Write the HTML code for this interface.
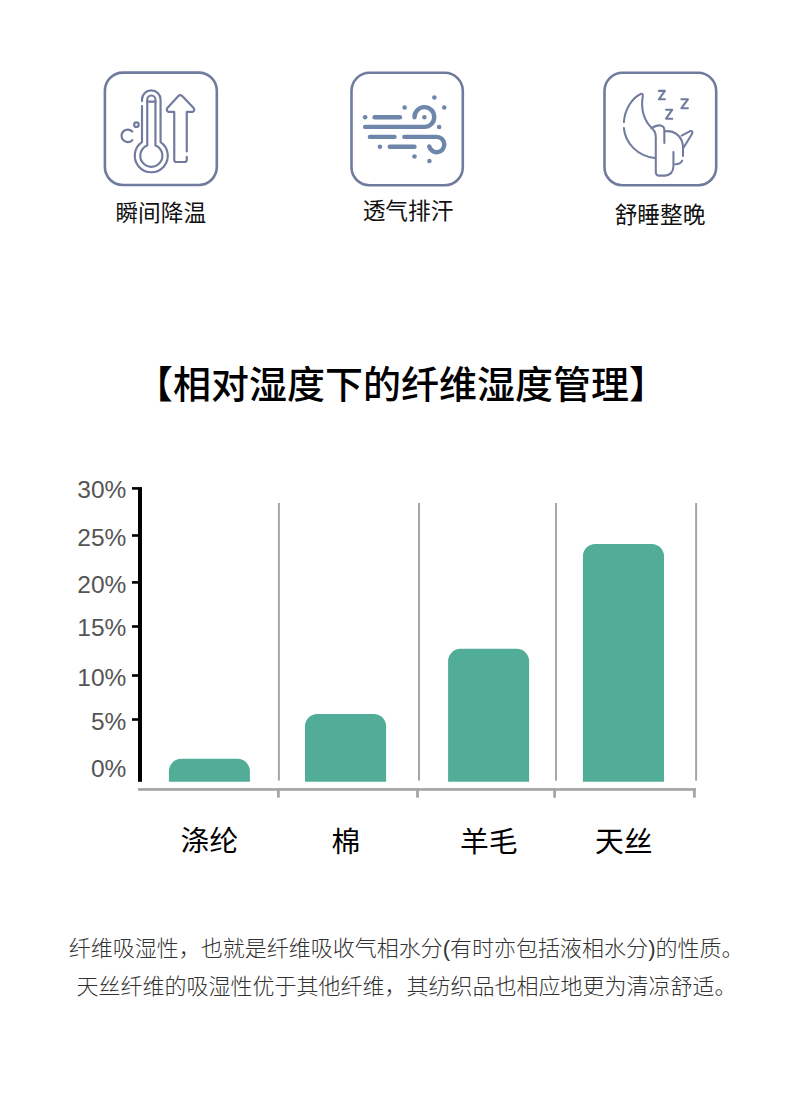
<!DOCTYPE html>
<html><head><meta charset="utf-8"><title>chart</title>
<style>html,body{margin:0;padding:0;background:#fff;}body{width:790px;height:1115px;overflow:hidden;font-family:"Liberation Sans",sans-serif;}svg{display:block;}</style>
</head><body>
<svg width="790" height="1115" viewBox="0 0 790 1115">
<rect width="790" height="1115" fill="#fff"/>
<rect x="104.9" y="72.6" width="111.90" height="112.40" rx="18" ry="18" fill="none" stroke="#707b9e" stroke-width="2.6"/>
<rect x="351.5" y="72.8" width="111.30" height="112.50" rx="18" ry="18" fill="none" stroke="#707b9e" stroke-width="2.6"/>
<rect x="604.5" y="72.8" width="111.70" height="112.50" rx="18" ry="18" fill="none" stroke="#707b9e" stroke-width="2.6"/>
<g transform="translate(115,80) scale(0.11392)" fill="none" stroke="#707b9e" stroke-width="19" stroke-linecap="round" stroke-linejoin="round">
<path d="M237 185 V172 A81.5 81.5 0 0 1 400 172 V545 A145 145 0 1 1 237 545 V228"/>
<path d="M283 575 V172 A36 36 0 0 1 355 172 V575 A97 97 0 1 1 283 575 Z"/>
<path d="M283 190 H355"/>
<path d="M152 452 A55 55 0 1 0 152 528"/>
<circle cx="188" cy="392" r="20"/>
<path d="M630 628 V280 H680 Q705 270 690 245 L590 140 Q573 125 556 140 L460 245 Q445 270 470 280 H520 V700 Q520 720 540 720 H610 Q630 720 630 700 V675"/>
</g>
<g transform="translate(355,85) scale(0.12658)" fill="none" stroke="#6f86ab" stroke-width="35" stroke-linecap="round" stroke-linejoin="round">
<path d="M155 255 H355"/>
<path d="M470 255 A78 78 0 1 1 548 331 H80"/>
<path d="M118 410 H312"/>
<path d="M390 410 H645 A60.5 60.5 0 1 1 586.3 485.1"/>
<path d="M275 488 H470"/>
<circle cx="80" cy="255" r="18" fill="#6f86ab" stroke="none"/>
<circle cx="392" cy="178" r="18" fill="#6f86ab" stroke="none"/>
<circle cx="627" cy="98" r="18" fill="#6f86ab" stroke="none"/>
<circle cx="705" cy="178" r="18" fill="#6f86ab" stroke="none"/>
<circle cx="548" cy="255" r="18" fill="#6f86ab" stroke="none"/>
<circle cx="665" cy="332" r="18" fill="#6f86ab" stroke="none"/>
<circle cx="197" cy="488" r="18" fill="#6f86ab" stroke="none"/>
<circle cx="470" cy="565" r="18" fill="#6f86ab" stroke="none"/>
<circle cx="588" cy="600" r="18" fill="#6f86ab" stroke="none"/>
</g>
<g transform="translate(615,82) scale(0.11392)" fill="none" stroke="#707b9e" stroke-width="18" stroke-linecap="round" stroke-linejoin="round">
<path d="M78 352 C85 240 150 140 225 105 Q248 98 244 125 C225 230 250 340 330 410"/>
<path d="M78 405 C90 540 200 650 350 668"/>
<path d="M320 405 C350 385 380 378 400 382 Q432 388 433 420 V535"/>
<path d="M335 420 Q358 440 358 480 V790 Q358 822 390 822 H440 Q510 815 513 740 V615"/>
<path d="M440 432 C520 425 585 470 597 560 V650"/>
<path d="M590 690 Q575 722 528 722"/>
<path d="M585 470 L655 433 Q685 425 678 452 L600 580"/>
<path d="M385 78 H438 L385 152 H438"/>
<path d="M448 243 H503 L448 322 H503"/>
<path d="M583 152 H640 L583 230 H640"/>
</g>
<text x="160.8" y="220.8" font-size="22.7" fill="#111" text-anchor="middle" font-family="&quot;Liberation Sans&quot;, &quot;Noto Sans CJK SC&quot;, sans-serif">瞬间降温</text>
<text x="408" y="218.6" font-size="22.7" fill="#111" text-anchor="middle" font-family="&quot;Liberation Sans&quot;, &quot;Noto Sans CJK SC&quot;, sans-serif">透气排汗</text>
<text x="660" y="222.9" font-size="22.7" fill="#111" text-anchor="middle" font-family="&quot;Liberation Sans&quot;, &quot;Noto Sans CJK SC&quot;, sans-serif">舒睡整晚</text>
<text x="401" y="397.5" font-size="38" font-weight="500" fill="#000" text-anchor="middle" font-family="&quot;Liberation Sans&quot;, &quot;Noto Sans CJK SC&quot;, sans-serif">【相对湿度下的纤维湿度管理】</text>
<rect x="138" y="487.1" width="4" height="294.7" fill="#000"/>
<rect x="132" y="487.1" width="7" height="2.6" fill="#000"/>
<rect x="132" y="534.2" width="7" height="2.6" fill="#000"/>
<rect x="132" y="581.1" width="7" height="2.6" fill="#000"/>
<rect x="132" y="625.2" width="7" height="2.6" fill="#000"/>
<rect x="132" y="674.2" width="7" height="2.6" fill="#000"/>
<rect x="132" y="718.2" width="7" height="2.6" fill="#000"/>
<rect x="277.9" y="503" width="2" height="277.6" fill="#a6a6a6"/>
<rect x="418.0" y="503" width="2" height="277.6" fill="#a6a6a6"/>
<rect x="555.0" y="503" width="2" height="277.6" fill="#a6a6a6"/>
<rect x="695.1" y="503" width="2" height="277.6" fill="#a6a6a6"/>
<rect x="138" y="788.1" width="557.8" height="2.7" fill="#a6a6a6"/>
<rect x="277.0" y="788.1" width="2.8" height="9.6" fill="#a6a6a6"/>
<rect x="416.1" y="788.1" width="2.8" height="9.6" fill="#a6a6a6"/>
<rect x="553.2" y="788.1" width="2.8" height="9.6" fill="#a6a6a6"/>
<rect x="693.0" y="788.1" width="2.8" height="9.6" fill="#a6a6a6"/>
<path d="M168.9 781.8 V771.0999999999999 A12.3 12.3 0 0 1 181.20000000000002 758.8 H237.6 A12.3 12.3 0 0 1 249.9 771.0999999999999 V781.8 Z" fill="#52ad98"/>
<path d="M305.0 781.8 V726.1999999999999 A12.3 12.3 0 0 1 317.3 713.9 H373.8 A12.3 12.3 0 0 1 386.1 726.1999999999999 V781.8 Z" fill="#52ad98"/>
<path d="M448.1 781.8 V661.0999999999999 A12.3 12.3 0 0 1 460.40000000000003 648.8 H516.8000000000001 A12.3 12.3 0 0 1 529.1 661.0999999999999 V781.8 Z" fill="#52ad98"/>
<path d="M582.9 781.8 V556.1999999999999 A12.3 12.3 0 0 1 595.1999999999999 543.9 H651.7 A12.3 12.3 0 0 1 664.0 556.1999999999999 V781.8 Z" fill="#52ad98"/>
<g font-family="&quot;Liberation Sans&quot;, sans-serif" font-size="24.5" fill="#555" text-anchor="end">
<text x="126.3" y="498.3">30%</text>
<text x="126.3" y="545.9">25%</text>
<text x="126.3" y="593.2">20%</text>
<text x="126.3" y="635.9">15%</text>
<text x="126.3" y="686">10%</text>
<text x="126.3" y="730.1">5%</text>
<text x="126.3" y="777.1">0%</text>
</g>
<g font-family="&quot;Liberation Sans&quot;, &quot;Noto Sans CJK SC&quot;, sans-serif" font-size="28.8" fill="#000" text-anchor="middle">
<text x="209.4" y="851.3">涤纶</text>
<text x="345.8" y="851.5">棉</text>
<text x="488.8" y="851.6">羊毛</text>
<text x="623.7" y="851.5">天丝</text>
</g>
<g font-family="&quot;Liberation Sans&quot;, &quot;Noto Sans CJK SC&quot;, sans-serif" font-size="22" font-weight="300" fill="#333">
<text x="68.8" y="956">纤维吸湿性，也就是纤维吸收气相水分(有时亦包括液相水分)的性质。</text>
<text x="76.5" y="994.1">天丝纤维的吸湿性优于其他纤维，其纺织品也相应地更为清凉舒适。</text>
</g>
</svg>
</body></html>
